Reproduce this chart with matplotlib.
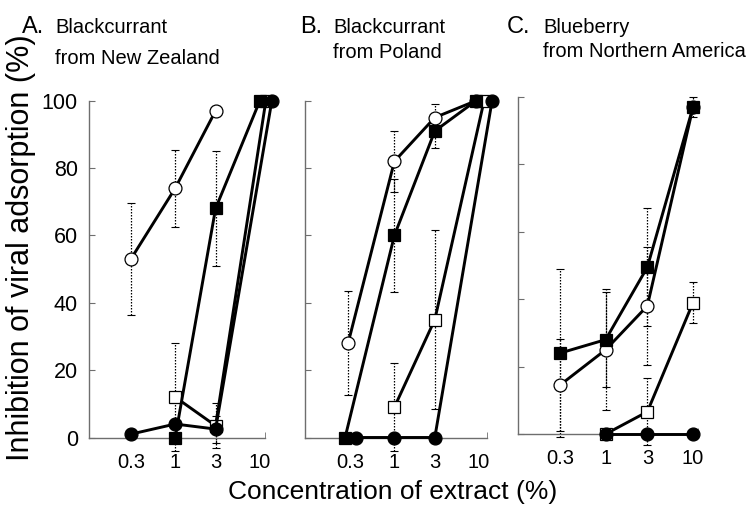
import numpy as np
import matplotlib
matplotlib.use("Agg")
import matplotlib.pyplot as plt
from matplotlib.ticker import FixedLocator, NullFormatter

plt.rcParams["font.family"] = ["Liberation Sans", "DejaVu Sans"]

W, H = 747, 511
nan = np.nan

conc = [0.3, 1, 3, 10]
conc_labels = ["0.3", "1", "3", "10"]
y_ticks = [0, 20, 40, 60, 80, 100]

panel_letters = ["A.", "B.", "C."]
panel_fruit = ["Blackcurrant", "Blackcurrant", "Blueberry"]
panel_origin = ["from New Zealand", "from Poland", "from Northern America"]

# A. Blackcurrant, New Zealand
a_open_circle = [53, 74, 97, nan]
a_open_circle_err = [16.5, 11.5, 1.5, nan]
a_open_square = [nan, 12, 3.5, 100]
a_open_square_err = [nan, 16, 6.7, 0]
a_filled_square = [nan, 0, 68, 100]
a_filled_square_err = [nan, 0, 17, 0]
a_filled_circle = [1, 4, 2.5, 100]
a_filled_circle_err = [0, 0, 4, 0]

# B. Blackcurrant, Poland
b_open_circle = [28, 82, 95, 100]
b_open_circle_err = [15.5, 9, 4, 0]
b_open_square = [nan, 9, 35, 100]
b_open_square_err = [nan, 13, 26.5, 0]
b_filled_square = [0, 60, 91, 100]
b_filled_square_err = [0, 16.7, 5, 0]
b_filled_circle = [0, 0, 0, 100]
b_filled_circle_err = [0, 0, 0, 0]

# C. Blueberry, Northern America
c_open_circle = [14.5, 25, 38, 97]
c_open_circle_err = [13.7, 18, 17.5, 0]
c_open_square = [nan, 0, 6.6, 39]
c_open_square_err = [nan, 0, 10, 6]
c_filled_square = [24, 28, 49.5, 97]
c_filled_square_err = [25, 14, 17.5, 3]
c_filled_circle = [nan, 0, 0, 0]
c_filled_circle_err = [nan, 0, 0, 0]

panels = [
    [(a_open_circle, a_open_circle_err), (a_open_square, a_open_square_err),
     (a_filled_square, a_filled_square_err), (a_filled_circle, a_filled_circle_err)],
    [(b_open_circle, b_open_circle_err), (b_open_square, b_open_square_err),
     (b_filled_square, b_filled_square_err), (b_filled_circle, b_filled_circle_err)],
    [(c_open_circle, c_open_circle_err), (c_open_square, c_open_square_err),
     (c_filled_square, c_filled_square_err), (c_filled_circle, c_filled_circle_err)],
]

# marker styles, same order as in panels
styles = [("o", "white"), ("s", "white"), ("s", "black"), ("o", "black")]

# layout in pixels: left, right, top(100%), bottom(0%)
boxes = [(89, 265, 100.7, 437.5), (305, 487, 100.7, 437.5), (517.5, 698, 97, 434)]
xlims = [(0.096, 11.5), (0.088, 12.4), (0.098, 11.4)]
# small horizontal nudges (px) so overlapping markers stay visible
nudges = [
    [[0, 0, 0, 0], [0, 0, 0, 6], [0, 0, 0, 0], [0, 0, 0, 12]],
    [[-2, 0, 0, -3], [0, 0, 0, 5], [-5, 0, 0, -3], [6, 0, 0, 13]],
    [[0, 0, 0, 0], [0, 0, 0, 0], [0, 0, 0, 0], [0, 0, 0, 0]],
]
letter_x = [22, 300, 507]

spine_col = "#6e6e6e"
fig = plt.figure(figsize=(W / 100, H / 100), dpi=100)

for p, (l, r, t, b) in enumerate(boxes):
    ax = fig.add_axes([l / W, 1 - b / H, (r - l) / W, (b - t) / H])
    xmin, xmax = xlims[p]
    ax.set_xscale("log")
    ax.set_xlim(xmin, xmax)
    ax.set_ylim(0, 100)
    ppd = (r - l) / (np.log10(xmax) - np.log10(xmin))

    for s, (vals, err) in enumerate(panels[p]):
        marker, face = styles[s]
        x = np.array(conc) * 10 ** (np.array(nudges[p][s]) / ppd)
        y = np.array(vals, dtype=float)
        e = np.array(err, dtype=float)
        eb = ax.errorbar(x, y, yerr=e, fmt="none", ecolor="black",
                         elinewidth=0.9, capsize=3, capthick=0.8, zorder=2)
        for lc in eb[2]:
            lc.set_linestyle((0, (1.2, 1.2)))
            lc.set_clip_on(False)
        for cap in eb[1]:
            cap.set_clip_on(False)
        ax.plot(x, y, "-", color="black", lw=2.1, marker=marker, ms=9.3,
                mfc=face, mec="black", mew=0.9, clip_on=False, zorder=3 + s)

    for side in ["top", "right"]:
        ax.spines[side].set_visible(False)
    for side in ["left", "bottom"]:
        ax.spines[side].set_color(spine_col)
        ax.spines[side].set_linewidth(1.0)

    ax.set_xticks(conc)
    ax.set_xticklabels(conc_labels)
    ax.xaxis.set_minor_locator(FixedLocator([xmax]))
    ax.xaxis.set_minor_formatter(NullFormatter())
    ax.tick_params(axis="x", which="major", length=0, pad=11, labelsize=14.5)
    ax.tick_params(axis="x", which="minor", length=4, direction="in",
                   color=spine_col)
    ax.set_yticks(y_ticks)
    ax.tick_params(axis="y", which="both", length=4, direction="in",
                   color=spine_col, labelsize=15.5, pad=8,
                   labelleft=(p == 0))

    fig.text(letter_x[p] / W, 1 - 33 / H, panel_letters[p],
             fontsize=17, ha="left", va="baseline")

# panel headers
head_x = [55, 333, 543]
fruit_y = [33, 33, 33]
origin_y = [64, 58, 57]
for p in range(3):
    fig.text(head_x[p] / W, 1 - fruit_y[p] / H, panel_fruit[p],
             fontsize=14.5, ha="left", va="baseline")
    fig.text(head_x[p] / W, 1 - origin_y[p] / H, panel_origin[p],
             fontsize=14.5, ha="left", va="baseline")

fig.text(393 / W, 1 - 492 / H, "Concentration of extract (%)",
         fontsize=19, ha="center", va="center")
fig.text(21 / W, 1 - 248 / H, "Inhibition of viral adsorption (%)",
         fontsize=22, ha="center", va="center", rotation=90)

fig.savefig("out.png", dpi=100)
